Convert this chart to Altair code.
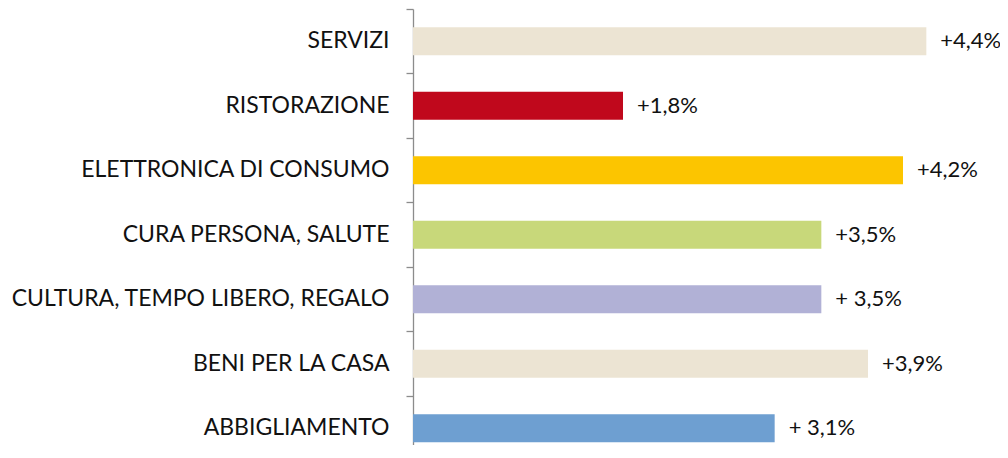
import altair as alt
import pandas as pd

categories = ["SERVIZI", "RISTORAZIONE", "ELETTRONICA DI CONSUMO", "CURA PERSONA, SALUTE",
              "CULTURA, TEMPO LIBERO, REGALO", "BENI PER LA CASA", "ABBIGLIAMENTO"]
values = [4.4, 1.8, 4.2, 3.5, 3.5, 3.9, 3.1]
value_labels = ["+4,4%", "+1,8%", "+4,2%", "+3,5%", "+ 3,5%", "+3,9%", "+ 3,1%"]
colors = ["#ECE4D3", "#C0081C", "#FCC500", "#C8D87A", "#B1B1D6", "#ECE4D3", "#6E9FD1"]

df = pd.DataFrame({"cat": categories, "val": values, "lab": value_labels, "col": colors})

FONT = "Lato"
FS_AXIS = 23
FS_VAL = 22
W = 560
H = 436

y_enc = alt.Y("cat:N", sort=categories, title=None,
              scale=alt.Scale(range=[0, 451.5], paddingInner=0, paddingOuter=0),
              axis=alt.Axis(bandPosition=0, domainColor="#8C8C8C", tickColor="#8C8C8C",
                            tickSize=7, domainWidth=1.3, tickWidth=1.3,
                            labelFont=FONT, labelFontSize=FS_AXIS, labelColor="#111111",
                            labelPadding=17, labelBaseline="middle", labelLimit=500))
x_enc = alt.X("val:Q", scale=alt.Scale(domain=[0, 4.8], nice=False), axis=None)

bars = alt.Chart(df).mark_bar(size=28).encode(
    y=y_enc, x=x_enc, color=alt.Color("col:N", scale=None))

text = alt.Chart(df).mark_text(align="left", baseline="middle", dx=14, font=FONT,
                               fontSize=FS_VAL, color="#111111").encode(
    y=alt.Y("cat:N", sort=categories), x="val:Q", text="lab:N")

chart = alt.layer(bars, text).properties(
    width=W, height=H,
    autosize=alt.AutoSizeParams(type="none"),
    padding={"left": 405, "top": 1, "right": 27, "bottom": 0},
).configure_view(stroke=None)

chart.save("out.html", embed_options={"renderer": "svg", "actions": False})
